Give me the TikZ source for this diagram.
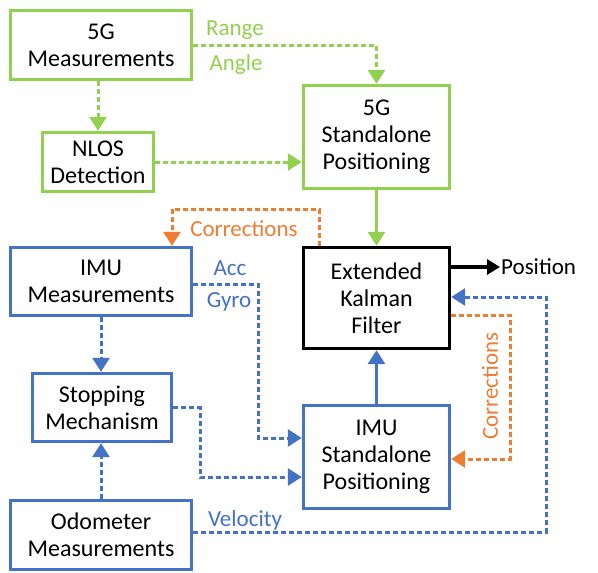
\documentclass[tikz,border=0pt]{standalone}
\usepackage{fontspec}
\setmainfont{Carlito}
\usetikzlibrary{arrows.meta,calc}
\definecolor{cgreen}{HTML}{92D050}
\definecolor{cblue}{HTML}{4472C4}
\definecolor{corange}{HTML}{ED7D31}
\begin{document}
\begin{tikzpicture}[x=1pt,y=-1pt,
  box/.style={draw,line width=3.4pt,rectangle,align=center,inner sep=0pt,
    font=\fontsize{24}{27}\selectfont,text=black},
  gbox/.style={box,draw=cgreen},
  bbox/.style={box,draw=cblue},
  kbox/.style={box,draw=black},
  conn/.style={line width=3pt,-{Triangle[length=14pt,width=17pt]}},
  dsh/.style={conn,dash pattern=on 5pt off 3pt},
  lbl/.style={font=\fontsize{23}{26}\selectfont,inner sep=0pt,anchor=base},
]
\useasboundingbox (0,0) rectangle (598,573);
% boxes
\node[gbox,minimum width=181pt,minimum height=69pt] (m5g) at (101,45) {5G\\Measurements};
\node[gbox,minimum width=111pt,minimum height=59pt] (nlos) at (98,162) {NLOS\\Detection};
\node[gbox,minimum width=146pt,minimum height=103pt] (sa5g) at (376.5,137) {5G\\Standalone\\Positioning};
\node[kbox,minimum width=146pt,minimum height=101pt] (ekf) at (376.5,298) {Extended\\Kalman\\Filter};
\node[bbox,minimum width=181pt,minimum height=68pt] (imum) at (101,281.5) {IMU\\Measurements};
\node[bbox,minimum width=139pt,minimum height=68pt] (stop) at (102,407.5) {Stopping\\Mechanism};
\node[bbox,minimum width=181pt,minimum height=69pt] (odo) at (101,535) {Odometer\\Measurements};
\node[bbox,minimum width=146pt,minimum height=103pt] (imusa) at (376.5,457) {IMU\\Standalone\\Positioning};
\node[font=\fontsize{23}{26}\selectfont,inner sep=1pt,anchor=west] (pos) at (500,267) {Position};
% helper coordinates
\coordinate (cT) at (319,209);
\coordinate (agx) at (258,284);
\coordinate (agy) at (258,438);
\coordinate (sm) at (200,477);
\coordinate (v1) at (546,532);
\coordinate (v2) at (546,297);
\coordinate (o1) at (510,315);
\coordinate (o2) at (510,459);
% green
\draw[dsh,cgreen] (m5g.east) -| (sa5g.north);
\draw[dsh,cgreen] (nlos.north |- m5g.south) -- (nlos.north);
\draw[dsh,cgreen] (nlos.east) -- (nlos.east -| sa5g.west);
\draw[conn,cgreen] (sa5g.south) -- (ekf.north);
% orange
\draw[dsh,corange] (ekf.north -| cT) -- (cT) -| ([xshift=71pt]imum.north);
\draw[dsh,corange] (ekf.east |- o1) -- (o1) -- (o2) -- (o2 -| imusa.east);
% blue
\draw[dsh,cblue] (imum.east |- agx) -- (agx) -- (agy) -- (agy -| imusa.west);
\draw[dsh,cblue] (imum.south) -- (imum.south |- stop.north);
\draw[dsh,cblue] (stop.east) -| (sm) -- (sm -| imusa.west);
\draw[dsh,cblue] (odo.north) -- (odo.north |- stop.south);
\draw[dsh,cblue] (odo.east |- v1) -- (v1) -- (v2) -- (v2 -| ekf.east);
\draw[conn,cblue] (imusa.north) -- (ekf.south);
% black
\draw[line width=3.2pt,-{Triangle[length=13pt,width=15pt]}] (ekf.east |- pos.west) -- (pos.west);
% labels
\node[lbl,text=cgreen] (lrange) at (235,35) {Range};
\node[lbl,text=cgreen] (langle) at (236,70.5) {Angle};
\node[lbl,text=corange] (lcor1) at (244,236) {Corrections};
\node[lbl,text=cblue] (lacc) at (230,275) {Acc};
\node[lbl,text=cblue] (lgyro) at (229,307) {Gyro};
\node[lbl,text=cblue] (lvel) at (245,526) {Velocity};
\node[font=\fontsize{23}{26}\selectfont,inner sep=0pt,text=corange,rotate=90] (lcor2) at (490,386) {Corrections};
\end{tikzpicture}
\end{document}
